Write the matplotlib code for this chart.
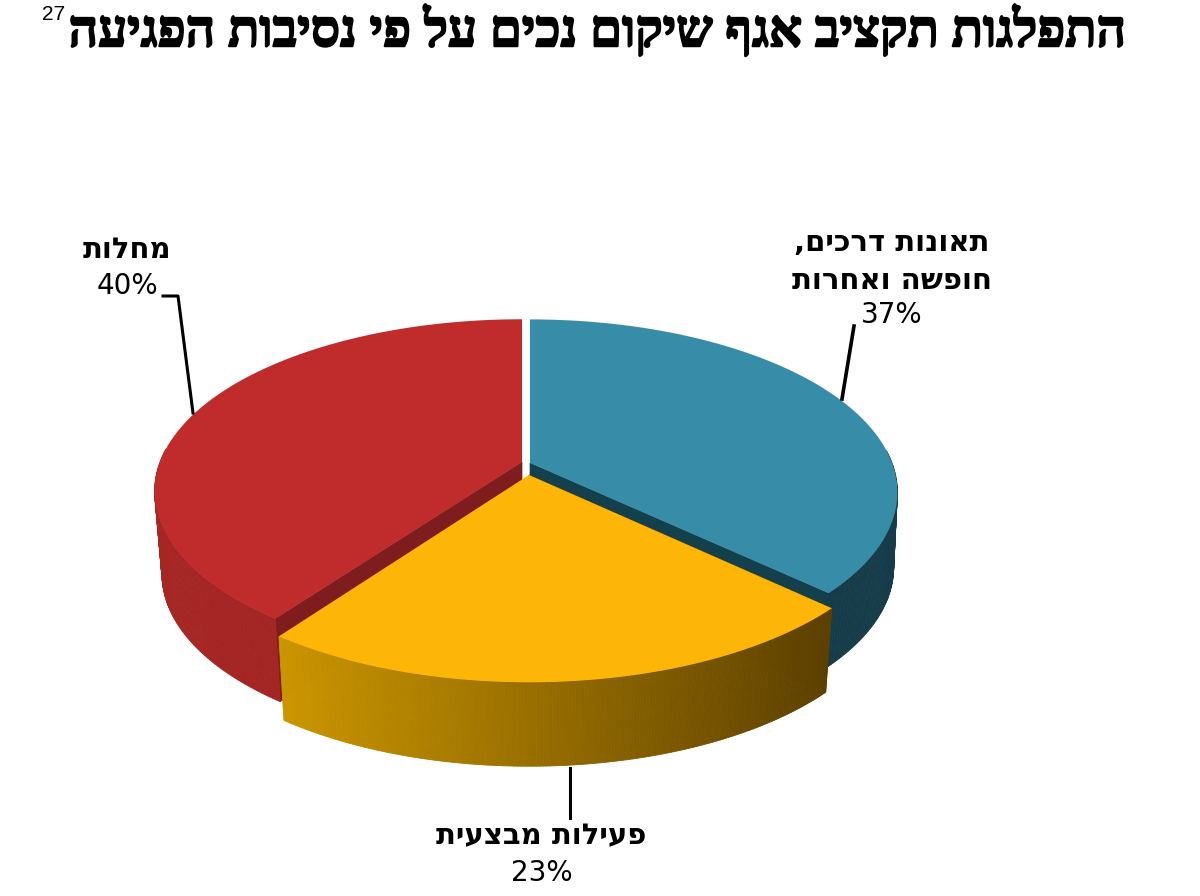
import numpy as np
import matplotlib
matplotlib.use('Agg')
import matplotlib.pyplot as plt
import matplotlib.patheffects as pe
from matplotlib.colors import to_rgb

# Datos
titulo = 'התפלגות תקציב אגף שיקום נכים על פי נסיבות הפגיעה'
nota = '27'
valores = [37, 23, 40]
nombres = [['תאונות דרכים,', 'חופשה ואחרות'], ['פעילות מבצעית'], ['מחלות']]

# Colores (cara superior, corte interior, borde exterior izq/der)
col_cara = ['#378DA8', '#FDB508', '#C02C2B']
col_corte = ['#143F4C', '#5F4300', '#7E1C1E']
col_pared = [('#163C4A', '#163C4A'), ('#CC9600', '#5C4000'), ('#A62624', '#9C2225')]

# Geometria de cada porcion en pixeles
centros = [(530, 463), (529, 475), (522, 462)]
radios = [362, 367, 362]
altos = [168, 172, 167]
alto_pared = [75, 84, 83]
encoge = [0.99, 0.98, 0.98]
K = 0.17


def proyectar(i, ang, z=0.0):
    cx, cy = centros[i]
    u = np.sin(ang)
    v = -np.cos(ang)
    s = 1 / (1 - K * v)
    enc = encoge[i] if z > 0 else 1
    return cx + radios[i] * u * s * enc, cy + altos[i] * v * s + z


def mezcla(c1, c2, t):
    c1, c2 = np.array(to_rgb(c1)), np.array(to_rgb(c2))
    return tuple(c1 + (c2 - c1) * t)


fig = plt.figure(figsize=(12, 8.96), dpi=100)
ax = fig.add_axes([0, 0, 1, 1])
ax.set_xlim(0, 1200)
ax.set_ylim(896, 0)
ax.axis('off')

# Angulos a partir de los valores, en sentido horario desde arriba
bordes = np.radians(np.cumsum([0] + valores) * 3.6)

zo = 1
for i in [0, 2, 1]:
    cx, cy = centros[i]
    h = alto_pared[i]
    angs = np.linspace(bordes[i], bordes[i + 1], 200)

    # corte interior (borde final del azul y borde inicial del rojo)
    ang_corte = bordes[i + 1] if i == 0 else bordes[i]
    xb, yb = proyectar(i, ang_corte)
    xc, yc = proyectar(i, ang_corte, z=h)
    ax.fill([cx, xb, xc, cx], [cy, yb, yc, cy + h], color=col_corte[i], lw=0.5, zorder=zo)

    # pared exterior, solo la parte de delante
    xs, ys = proyectar(i, angs)
    xi, yi = proyectar(i, angs, z=h)
    x_min, x_max = xs.min(), xs.max()
    for j in range(len(angs) - 1):
        if np.cos((angs[j] + angs[j + 1]) / 2) > 0.08:
            continue
        t = (xs[j] - x_min) / (x_max - x_min)
        c = mezcla(col_pared[i][0], col_pared[i][1], t)
        ax.fill([xs[j], xs[j + 1], xi[j + 1], xi[j]], [ys[j], ys[j + 1], yi[j + 1], yi[j]],
                color=c, lw=0.6, zorder=zo)

    # cara superior
    ax.fill(np.r_[cx, xs], np.r_[cy, ys], color=col_cara[i], lw=0, zorder=zo + 0.5)
    zo += 1

# Lineas guia
ax.plot([163, 178, 193], [296, 296, 413], color='black', lw=2.2, zorder=6)
ax.plot([854, 842], [326, 399], color='black', lw=2.6, zorder=6)
ax.plot([570, 570], [768, 818], color='black', lw=2.2, zorder=6)

# Textos (matplotlib no invierte el hebreo, por eso [::-1])
f_titulo = ['Liberation Serif', 'DejaVu Serif']
f_etq = ['DejaVu Sans']
t = ax.text(1126, 31, titulo[::-1], family=f_titulo, weight='bold', fontsize=37, ha='right', va='center')
t.set_path_effects([pe.withStroke(linewidth=1.4, foreground='black')])
ax.text(42, 15, nota, family='Liberation Sans', fontsize=15, ha='left', va='center')

ax.text(892, 243, nombres[0][0][::-1], family=f_etq, weight='bold', fontsize=21, ha='center', va='center')
ax.text(892, 281, nombres[0][1][::-1], family=f_etq, weight='bold', fontsize=21, ha='center', va='center')
ax.text(892, 315, '%d%%' % valores[0], family=f_etq, fontsize=20, ha='center', va='center')

ax.text(541, 836, nombres[1][0][::-1], family=f_etq, weight='bold', fontsize=21, ha='center', va='center')
ax.text(542, 873, '%d%%' % valores[1], family=f_etq, fontsize=20, ha='center', va='center')

ax.text(127, 250, nombres[2][0][::-1], family=f_etq, weight='bold', fontsize=21, ha='center', va='center')
ax.text(127, 286, '%d%%' % valores[2], family=f_etq, fontsize=20, ha='center', va='center')

fig.savefig('out.png', dpi=100)
